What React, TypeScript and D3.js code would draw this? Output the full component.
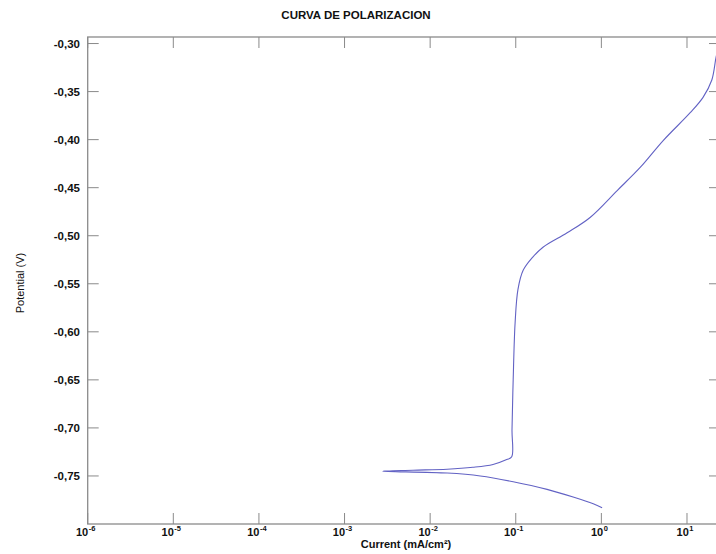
import React from "react";
import * as d3 from "d3";

// polarization sweep, cathodic end first (current in mA/cm², potential in V)
const currents = [
  1.02, 0.804, 0.468, 0.232, 0.0933, 0.0385, 0.0158, 0.0028,
  0.0063, 0.0158, 0.0316, 0.0543, 0.0785, 0.0897, 0.0904, 0.0933,
  0.0982, 0.106, 0.122, 0.159, 0.208, 0.398, 0.738, 1.53, 2.84,
  5.27, 10.9, 15.4, 19.5, 21.9, 24.3,
];
const potentials = [
  -0.783, -0.779, -0.772, -0.764, -0.756, -0.75, -0.747, -0.745,
  -0.744, -0.743, -0.741, -0.738, -0.733, -0.73, -0.702, -0.65,
  -0.591, -0.556, -0.536, -0.522, -0.512, -0.497, -0.481, -0.453, -0.429,
  -0.401, -0.372, -0.356, -0.338, -0.314, -0.298,
];

const xTickExps = [-6, -5, -4, -3, -2, -1, 0, 1];
const yTickValues = [-0.3, -0.35, -0.4, -0.45, -0.5, -0.55, -0.6, -0.65, -0.7, -0.75];

const title = "CURVA DE POLARIZACION";
const xLabel = "Current (mA/cm²)";
const yLabel = "Potential (V)";

const W = 716;
const H = 554;
const left = 87.7;
const right = 720;
const top = 37;
const bottom = 524;

const axisColor = "#8a8a8a";
const font = "'Liberation Sans', Arial, sans-serif";

export default function App() {
  const x = d3.scaleLog().domain([1e-6, 24.3]).range([left, right]);
  const y = d3.scaleLinear().domain([-0.8, -0.2932]).range([bottom, top]);

  const points = currents.map((c, i) => ({ c, v: potentials[i] }));
  const line = d3
    .line<{ c: number; v: number }>()
    .x((d) => x(d.c))
    .y((d) => y(d.v))
    .curve(d3.curveCatmullRom.alpha(0.5));

  const fmt = (v: number) => v.toFixed(2).replace(".", ",");
  const tl = 11; // tick length, drawn inward

  return (
    <svg
      width={W}
      height={H}
      style={{ position: "absolute", left: 0, top: 0, background: "#fff" }}
      fontFamily={font}
    >
      <defs>
        <clipPath id="plot">
          <rect x={left} y={top} width={right - left} height={bottom - top} />
        </clipPath>
      </defs>

      <text x={356} y={19} textAnchor="middle" fontSize={11.5} fontWeight="bold" fill="#111">
        {title}
      </text>

      {/* frame */}
      <rect
        x={left}
        y={top}
        width={right - left}
        height={bottom - top}
        fill="none"
        stroke={axisColor}
        strokeWidth={1.3}
      />

      {/* x ticks, bottom and top */}
      {xTickExps.map((e) => {
        const px = x(Math.pow(10, e));
        return (
          <g key={e}>
            <line x1={px} x2={px} y1={bottom} y2={bottom - tl} stroke={axisColor} />
            <line x1={px} x2={px} y1={top} y2={top + tl} stroke={axisColor} />
            <text x={px - 2} y={536} textAnchor="middle" fontSize={11} fontWeight="bold" fill="#111">
              10
              <tspan dx={0.5} dy={-5} fontSize={7.5}>
                {e}
              </tspan>
            </text>
          </g>
        );
      })}

      {/* y ticks, left and right */}
      {yTickValues.map((v) => {
        const py = y(v);
        return (
          <g key={v}>
            <line x1={left} x2={left + tl} y1={py} y2={py} stroke={axisColor} />
            <line x1={right} x2={right - tl} y1={py} y2={py} stroke={axisColor} />
            <text x={80} y={py + 4} textAnchor="end" fontSize={11.5} fontWeight="bold" fill="#111">
              {fmt(v)}
            </text>
          </g>
        );
      })}

      <path
        d={line(points) ?? ""}
        fill="none"
        stroke="#6262c4"
        strokeWidth={1.1}
        clipPath="url(#plot)"
      />

      <text x={406} y={548} textAnchor="middle" fontSize={11} fontWeight="bold" fill="#111">
        {xLabel}
      </text>
      <text
        transform={`translate(24, 283) rotate(-90)`}
        textAnchor="middle"
        fontSize={11}
        fill="#111"
      >
        {yLabel}
      </text>
    </svg>
  );
}
